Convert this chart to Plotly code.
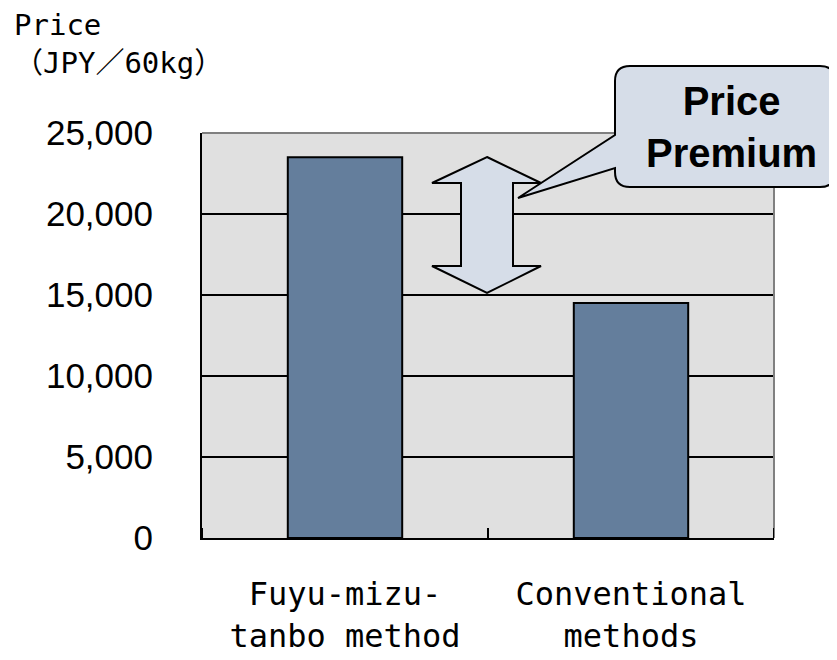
import plotly.graph_objects as go

# ---- data ----
categories = ["Fuyu-mizu-<br>tanbo method", "Conventional<br>methods"]
prices = [23500, 14500]
y_ticks = [0, 5000, 10000, 15000, 20000, 25000]
y_tick_labels = ["0", "5,000", "10,000", "15,000", "20,000", "25,000"]
y_title_lines = ["Price", "（JPY／60kg）"]
callout_text = ["Price", "Premium"]

# the page body has an 8px margin, so the figure is offset by 8px in the page
OFF = 8
W, H = 837, 660
# plot area in page pixels: x 202..774, y 133..538
PL, PR, PT, PB = 202, 774, 133, 538
L, T = PL - OFF, PT - OFF
R, B = W - (PR - OFF), H - (PB - OFF)
PW, PH = PR - PL, PB - PT


def X(px):
    return (px - PL) / PW


def Y(py):
    return (PB - py) / PH


def path(points):
    s = "M {} {}".format(X(points[0][0]), Y(points[0][1]))
    for p in points[1:]:
        s += " L {} {}".format(X(p[0]), Y(p[1]))
    return s + " Z"


fig = go.Figure()
fig.add_trace(go.Bar(
    x=[0, 1], y=prices, width=0.4,
    marker=dict(color="#647E9C", line=dict(color="black", width=2)),
    hoverinfo="skip",
))

# double-headed arrow
arrow = [(487, 157), (541, 183), (513, 183), (513, 266), (541, 266), (487, 293),
         (432, 266), (461, 266), (461, 183), (432, 183)]

# callout box with pointer
x0, x1, y0, y1, r = 615, 835, 66, 187, 15
callout = ("M {} {}".format(X(x0 + r), Y(y0))
           + " L {} {}".format(X(x1 - r), Y(y0))
           + " Q {} {} {} {}".format(X(x1), Y(y0), X(x1), Y(y0 + r))
           + " L {} {}".format(X(x1), Y(y1 - r))
           + " Q {} {} {} {}".format(X(x1), Y(y1), X(x1 - r), Y(y1))
           + " L {} {}".format(X(x0 + r), Y(y1))
           + " Q {} {} {} {}".format(X(x0), Y(y1), X(x0), Y(y1 - r))
           + " L {} {}".format(X(x0), Y(168))
           + " L {} {}".format(X(518), Y(198))
           + " L {} {}".format(X(x0), Y(135))
           + " L {} {}".format(X(x0), Y(y0 + r))
           + " Q {} {} {} {}".format(X(x0), Y(y0), X(x0 + r), Y(y0))
           + " Z")

shapes = [
    dict(type="line", xref="paper", yref="paper", x0=0, x1=1, y0=1, y1=1,
         line=dict(color="#808080", width=2), layer="above"),
    dict(type="line", xref="paper", yref="paper", x0=1, x1=1, y0=0, y1=1,
         line=dict(color="#808080", width=2), layer="above"),
    dict(type="path", xref="paper", yref="paper", path=path(arrow),
         fillcolor="#D6DDE8", line=dict(color="black", width=2), layer="above"),
    dict(type="path", xref="paper", yref="paper", path=callout,
         fillcolor="#D6DDE8", line=dict(color="black", width=2), layer="above"),
]

annotations = [
    dict(xref="paper", yref="paper", x=X(731), y=Y(127), xanchor="center", yanchor="middle",
         text="<b>" + "<br>".join(callout_text) + "</b>", showarrow=False,
         font=dict(family="Liberation Sans, Arial", size=40, color="black")),
    dict(xref="paper", yref="paper", x=X(12), y=Y(6), xanchor="left", yanchor="top",
         text="<br>".join(y_title_lines), showarrow=False, align="left",
         font=dict(family="DejaVu Sans Mono, Noto Sans CJK JP", size=29, color="black")),
]

fig.update_layout(
    width=W, height=H,
    margin=dict(l=L, r=R, t=T, b=B, pad=0, autoexpand=False),
    paper_bgcolor="white", plot_bgcolor="#E0E0E0",
    showlegend=False,
    shapes=shapes, annotations=annotations,
    xaxis=dict(
        type="linear", range=[-0.5, 1.5], automargin=False,
        tickvals=[0, 1], ticktext=categories,
        showgrid=False, zeroline=False,
        showline=True, linecolor="black", linewidth=2,
        ticks="",
        tickfont=dict(family="DejaVu Sans Mono, Noto Sans CJK JP", size=32, color="black"),
        ticklabelstandoff=27,
    ),
    yaxis=dict(
        range=[0, 25000], tickvals=y_ticks, ticktext=y_tick_labels, automargin=False,
        showgrid=True, gridcolor="black", gridwidth=2,
        zeroline=False,
        showline=True, linecolor="black", linewidth=2,
        ticks="inside", ticklen=8, tickcolor="black", tickwidth=2,
        tickfont=dict(family="Liberation Sans, Arial", size=35, color="black"),
        ticklabelstandoff=40,
    ),
)

# category boundary tick marks on the x axis
for b in [-0.5, 0.5, 1.5]:
    fig.add_shape(type="line", xref="x", yref="paper", x0=b, x1=b, y0=0, y1=10 / PH,
                  line=dict(color="black", width=2), layer="above")

fig.write_html("out.html")
